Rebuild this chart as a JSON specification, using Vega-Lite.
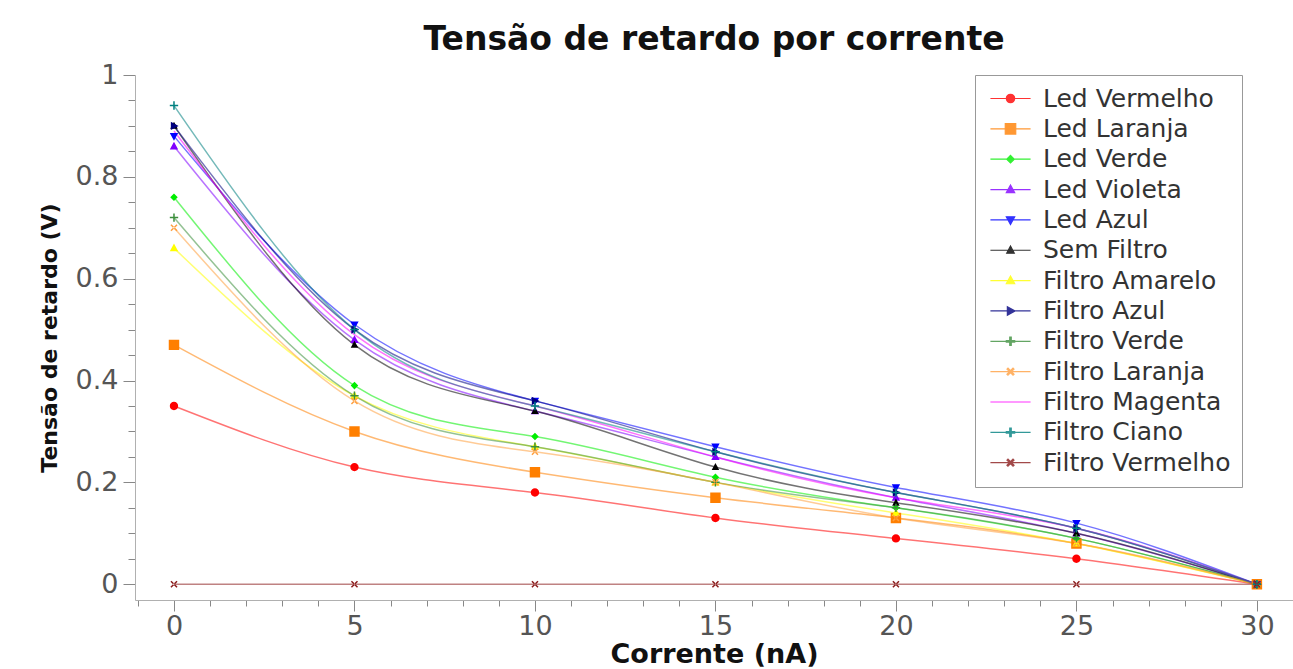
{
  "$schema": "https://vega.github.io/schema/vega-lite/v6.json",
  "width": 1158,
  "height": 525,
  "autosize": {"type": "none"},
  "padding": {"left": 135, "top": 75, "right": 0, "bottom": 69},
  "background": "white",
  "config": {"view": {"stroke": null}},
  "title": {"text": "Tensão de retardo por corrente", "font": "DejaVu Sans", "fontSize": 33, "fontWeight": "bold", "color": "#111111", "anchor": "middle", "offset": 4},
  "data": {"values": [
    {"s": "Led Vermelho", "x": 0, "y": 0.35}, {"s": "Led Vermelho", "x": 5, "y": 0.23}, {"s": "Led Vermelho", "x": 10, "y": 0.18}, {"s": "Led Vermelho", "x": 15, "y": 0.13}, {"s": "Led Vermelho", "x": 20, "y": 0.09}, {"s": "Led Vermelho", "x": 25, "y": 0.05}, {"s": "Led Vermelho", "x": 30, "y": 0},
    {"s": "Led Laranja", "x": 0, "y": 0.47}, {"s": "Led Laranja", "x": 5, "y": 0.30}, {"s": "Led Laranja", "x": 10, "y": 0.22}, {"s": "Led Laranja", "x": 15, "y": 0.17}, {"s": "Led Laranja", "x": 20, "y": 0.13}, {"s": "Led Laranja", "x": 25, "y": 0.08}, {"s": "Led Laranja", "x": 30, "y": 0},
    {"s": "Led Verde", "x": 0, "y": 0.76}, {"s": "Led Verde", "x": 5, "y": 0.39}, {"s": "Led Verde", "x": 10, "y": 0.29}, {"s": "Led Verde", "x": 15, "y": 0.21}, {"s": "Led Verde", "x": 20, "y": 0.15}, {"s": "Led Verde", "x": 25, "y": 0.09}, {"s": "Led Verde", "x": 30, "y": 0},
    {"s": "Led Violeta", "x": 0, "y": 0.86}, {"s": "Led Violeta", "x": 5, "y": 0.48}, {"s": "Led Violeta", "x": 10, "y": 0.34}, {"s": "Led Violeta", "x": 15, "y": 0.25}, {"s": "Led Violeta", "x": 20, "y": 0.17}, {"s": "Led Violeta", "x": 25, "y": 0.10}, {"s": "Led Violeta", "x": 30, "y": 0},
    {"s": "Led Azul", "x": 0, "y": 0.88}, {"s": "Led Azul", "x": 5, "y": 0.51}, {"s": "Led Azul", "x": 10, "y": 0.36}, {"s": "Led Azul", "x": 15, "y": 0.27}, {"s": "Led Azul", "x": 20, "y": 0.19}, {"s": "Led Azul", "x": 25, "y": 0.12}, {"s": "Led Azul", "x": 30, "y": 0},
    {"s": "Sem Filtro", "x": 0, "y": 0.90}, {"s": "Sem Filtro", "x": 5, "y": 0.47}, {"s": "Sem Filtro", "x": 10, "y": 0.34}, {"s": "Sem Filtro", "x": 15, "y": 0.23}, {"s": "Sem Filtro", "x": 20, "y": 0.16}, {"s": "Sem Filtro", "x": 25, "y": 0.10}, {"s": "Sem Filtro", "x": 30, "y": 0},
    {"s": "Filtro Amarelo", "x": 0, "y": 0.66}, {"s": "Filtro Amarelo", "x": 5, "y": 0.37}, {"s": "Filtro Amarelo", "x": 10, "y": 0.27}, {"s": "Filtro Amarelo", "x": 15, "y": 0.20}, {"s": "Filtro Amarelo", "x": 20, "y": 0.14}, {"s": "Filtro Amarelo", "x": 25, "y": 0.08}, {"s": "Filtro Amarelo", "x": 30, "y": 0},
    {"s": "Filtro Azul", "x": 0, "y": 0.90}, {"s": "Filtro Azul", "x": 5, "y": 0.50}, {"s": "Filtro Azul", "x": 10, "y": 0.36}, {"s": "Filtro Azul", "x": 15, "y": 0.26}, {"s": "Filtro Azul", "x": 20, "y": 0.18}, {"s": "Filtro Azul", "x": 25, "y": 0.11}, {"s": "Filtro Azul", "x": 30, "y": 0},
    {"s": "Filtro Verde", "x": 0, "y": 0.72}, {"s": "Filtro Verde", "x": 5, "y": 0.37}, {"s": "Filtro Verde", "x": 10, "y": 0.27}, {"s": "Filtro Verde", "x": 15, "y": 0.20}, {"s": "Filtro Verde", "x": 20, "y": 0.15}, {"s": "Filtro Verde", "x": 25, "y": 0.09}, {"s": "Filtro Verde", "x": 30, "y": 0},
    {"s": "Filtro Laranja", "x": 0, "y": 0.70}, {"s": "Filtro Laranja", "x": 5, "y": 0.36}, {"s": "Filtro Laranja", "x": 10, "y": 0.26}, {"s": "Filtro Laranja", "x": 15, "y": 0.20}, {"s": "Filtro Laranja", "x": 20, "y": 0.13}, {"s": "Filtro Laranja", "x": 25, "y": 0.08}, {"s": "Filtro Laranja", "x": 30, "y": 0},
    {"s": "Filtro Magenta", "x": 0, "y": 0.89}, {"s": "Filtro Magenta", "x": 5, "y": 0.49}, {"s": "Filtro Magenta", "x": 10, "y": 0.35}, {"s": "Filtro Magenta", "x": 15, "y": 0.25}, {"s": "Filtro Magenta", "x": 20, "y": 0.17}, {"s": "Filtro Magenta", "x": 25, "y": 0.11}, {"s": "Filtro Magenta", "x": 30, "y": 0},
    {"s": "Filtro Ciano", "x": 0, "y": 0.94}, {"s": "Filtro Ciano", "x": 5, "y": 0.50}, {"s": "Filtro Ciano", "x": 10, "y": 0.35}, {"s": "Filtro Ciano", "x": 15, "y": 0.26}, {"s": "Filtro Ciano", "x": 20, "y": 0.18}, {"s": "Filtro Ciano", "x": 25, "y": 0.11}, {"s": "Filtro Ciano", "x": 30, "y": 0},
    {"s": "Filtro Vermelho", "x": 0, "y": 0}, {"s": "Filtro Vermelho", "x": 5, "y": 0}, {"s": "Filtro Vermelho", "x": 10, "y": 0}, {"s": "Filtro Vermelho", "x": 15, "y": 0}, {"s": "Filtro Vermelho", "x": 20, "y": 0}, {"s": "Filtro Vermelho", "x": 25, "y": 0}, {"s": "Filtro Vermelho", "x": 30, "y": 0}
  ]},
  "encoding": {
    "x": {
      "field": "x", "type": "quantitative",
      "scale": {"domain": [-1.08, 31], "nice": false, "zero": false},
      "axis": {
        "title": "Corrente (nA)",
        "values": [-1,0,1,2,3,4,5,6,7,8,9,10,11,12,13,14,15,16,17,18,19,20,21,22,23,24,25,26,27,28,29,30],
        "format": "d",
        "labelExpr": "datum.value % 5 === 0 ? datum.label : ''",
        "tickSize": {"condition": {"test": "datum.value % 5 === 0", "value": 11}, "value": 6},
        "grid": false,
        "domainColor": "#b0b0b0",
        "tickColor": "#888888",
        "labelColor": "#555555",
        "labelFont": "DejaVu Sans",
        "labelFontSize": 27,
        "labelPadding": 2,
        "labelOverlap": false,
        "labelFlush": false,
        "titleFont": "DejaVu Sans",
        "titleFontSize": 27,
        "titleFontWeight": "bold",
        "titleColor": "#111111",
        "titlePadding": 2
      }
    },
    "y": {
      "field": "y", "type": "quantitative",
      "scale": {"domain": [-0.031, 1], "nice": false, "zero": false},
      "axis": {
        "title": "Tensão de retardo (V)",
        "values": [0,0.05,0.1,0.15,0.2,0.25,0.3,0.35,0.4,0.45,0.5,0.55,0.6,0.65,0.7,0.75,0.8,0.85,0.9,0.95,1],
        "format": ".1~f",
        "labelExpr": "round(datum.value*20) % 4 === 0 ? datum.label : ''",
        "tickSize": {"condition": {"test": "round(datum.value*20) % 4 === 0", "value": 12}, "value": 7},
        "grid": false,
        "domainColor": "#b0b0b0",
        "tickColor": "#888888",
        "labelColor": "#555555",
        "labelFont": "DejaVu Sans",
        "labelFontSize": 27,
        "labelPadding": 5,
        "labelOverlap": false,
        "labelFlush": false,
        "titleFont": "DejaVu Sans",
        "titleFontSize": 22,
        "titleFontWeight": "bold",
        "titleColor": "#111111",
        "titlePadding": 14
      }
    },
    "color": {
      "field": "s", "type": "nominal",
      "scale": {
        "domain": ["Led Vermelho","Led Laranja","Led Verde","Led Violeta","Led Azul","Sem Filtro","Filtro Amarelo","Filtro Azul","Filtro Verde","Filtro Laranja","Filtro Magenta","Filtro Ciano","Filtro Vermelho"],
        "range": ["#ff0000","#ff7f00","#00ee00","#8000ff","#0000ff","#000000","#ffff00","#000080","#3d8f3d","#ffa040","#ff00ff","#008080","#8b1c1c"]
      },
      "legend": {
        "title": null,
        "orient": "none",
        "legendX": 840,
        "legendY": 0,
        "padding": 11,
        "rowPadding": 4.35,
        "symbolSize": 70,
        "symbolOffset": 12,
        "labelOffset": 20,
        "labelFont": "DejaVu Sans",
        "labelFontSize": 25,
        "labelColor": "#333333",
        "labelLimit": 400,
        "strokeColor": "#999999",
        "fillColor": "white",
        "symbolStrokeWidth": 1.2,
        "symbolOpacity": 0.8
      }
    }
  },
  "layer": [
    {"mark": {"type": "line", "interpolate": "natural", "strokeWidth": 1.5, "opacity": 0.55}},
    {
      "mark": {"type": "point", "filled": true, "opacity": 1, "size": 70},
      "encoding": {
        "shape": {
          "field": "s", "type": "nominal",
          "scale": {
            "domain": ["Led Vermelho","Led Laranja","Led Verde","Led Violeta","Led Azul","Sem Filtro","Filtro Amarelo","Filtro Azul","Filtro Verde","Filtro Laranja","Filtro Magenta","Filtro Ciano","Filtro Vermelho"],
            "range": [
              "M-4.8,0H4.8M1,0A1,1 0 1,1 -1,0A1,1 0 1,1 1,0Z",
              "M-4.8,0H4.8M-1.25,-1.25H1.25V1.25H-1.25Z",
              "M-4.8,0H4.8M0,-0.9L0.9,0L0,0.9L-0.9,0Z",
              "M-4.8,0H4.8M0,-1.1L1,0.75H-1Z",
              "M-4.8,0H4.8M0,1.1L1,-0.75H-1Z",
              "M-4.8,0H4.8M0,-1L0.9,0.7H-0.9Z",
              "M-4.8,0H4.8M0,-1.1L1,0.75H-1Z",
              "M-4.8,0H4.8M1.1,0L-0.75,1V-1Z",
              "M-4.8,0H4.8M-1,-0.18H1V0.18H-1ZM-0.18,-1H0.18V1H-0.18Z",
              "M-4.8,0H4.8M-0.85,-0.6L0.6,0.85L0.85,0.6L-0.6,-0.85ZM0.85,-0.6L-0.6,0.85L-0.85,0.6L0.6,-0.85Z",
              "M-4.8,0H4.8",
              "M-4.8,0H4.8M-1,-0.18H1V0.18H-1ZM-0.18,-1H0.18V1H-0.18Z",
              "M-4.8,0H4.8M-0.85,-0.6L0.6,0.85L0.85,0.6L-0.6,-0.85ZM0.85,-0.6L-0.6,0.85L-0.85,0.6L0.6,-0.85Z"
            ]
          },
          "legend": null
        }
      }
    }
  ]
}
